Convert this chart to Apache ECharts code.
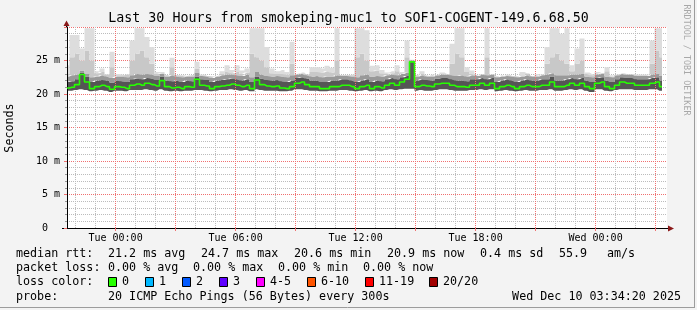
<!DOCTYPE html>
<html><head><meta charset="utf-8">
<script src="https://cdn.jsdelivr.net/npm/echarts@6/dist/echarts.min.js"></script>
<style>html,body{margin:0;padding:0;background:#f3f3f3}#c{width:697px;height:310px}</style>
</head><body><div id="c"></div>
<script>
// ---------------- data ----------------
const titleText = 'Last 30 Hours from smokeping-muc1 to SOF1-COGENT-149.6.68.50';
const yAxisName = 'Seconds';
const xTickHours = [0, 6, 12, 18, 24];
const xTickLabels = ['Tue 00:00', 'Tue 06:00', 'Tue 12:00', 'Tue 18:00', 'Wed 00:00'];
const yTickValues = [0, 5, 10, 15, 20, 25];
const yTickLabels = ['0  ', '5 m', '10 m', '15 m', '20 m', '25 m'];

// median RTT (ms), one value per 15 minutes starting Mon 21:34:20
const median = [
 20.9,21.0,21.4,22.9,21.8,20.8,21.1,21.3,21.1,20.7,
 21.1,21.0,20.8,21.3,21.5,21.3,21.6,21.4,21.2,22.0,
 21.1,20.9,21.0,20.8,21.1,21.0,22.2,21.3,21.2,20.8,
 21.1,21.2,21.3,21.5,21.3,21.1,21.3,20.8,22.1,21.4,
 21.2,21.1,21.2,20.9,20.8,21.1,21.6,21.8,21.4,21.1,
 21.1,20.8,20.8,21.1,21.1,21.3,21.3,21.1,20.8,21.1,
 21.3,20.8,21.1,20.9,21.3,21.6,21.3,21.8,22.2,24.8,
 21.1,21.3,21.2,21.1,21.5,21.6,21.6,21.3,21.1,21.1,
 21.0,21.3,21.3,21.6,21.3,21.6,20.8,21.1,21.3,21.1,
 20.8,21.1,21.3,21.1,21.1,21.3,21.3,21.8,21.1,21.1,
 21.3,21.6,21.3,21.6,21.1,20.8,21.6,21.8,21.1,20.8,
 21.3,21.8,21.6,21.6,21.3,21.3,21.3,21.6,21.8,21.1];
// lowest ping (ms)
const pingMin = [
 20.5,20.5,20.6,20.7,20.6,20.4,20.5,20.6,20.5,20.3,
 20.5,20.5,20.4,20.6,20.6,20.6,20.7,20.6,20.5,20.7,
 20.5,20.4,20.5,20.4,20.5,20.5,20.6,20.6,20.5,20.4,
 20.5,20.6,20.6,20.7,20.6,20.5,20.6,20.4,20.7,20.6,
 20.5,20.5,20.5,20.4,20.4,20.5,20.7,20.7,20.6,20.5,
 20.5,20.4,20.4,20.5,20.5,20.6,20.6,20.5,20.4,20.5,
 20.6,20.4,20.5,20.4,20.6,20.7,20.6,20.7,20.8,20.8,
 20.5,20.6,20.5,20.5,20.6,20.7,20.7,20.6,20.5,20.5,
 20.5,20.6,20.6,20.7,20.6,20.7,20.4,20.5,20.6,20.5,
 20.4,20.5,20.6,20.5,20.5,20.6,20.6,20.7,20.5,20.5,
 20.6,20.7,20.6,20.7,20.5,20.3,20.7,20.7,20.5,20.4,
 20.6,20.7,20.7,20.7,20.6,20.6,20.6,20.7,20.7,20.5];
// dense smoke upper edge (ms)
const smokeDark = [
 21.8,21.9,22.2,23.2,22.6,21.8,22.0,22.1,22.0,21.7,
 22.0,21.9,21.8,22.2,22.3,22.2,22.4,22.3,22.1,22.6,
 22.0,21.9,22.0,21.8,22.0,21.9,22.6,22.2,22.1,21.8,
 22.0,22.1,22.2,22.3,22.2,22.0,22.2,21.8,22.6,22.3,
 22.1,22.0,22.1,21.9,21.8,22.0,22.4,22.5,22.3,22.0,
 22.0,21.8,21.8,22.0,22.0,22.2,22.2,22.0,21.8,22.0,
 22.2,21.8,22.0,21.9,22.2,22.4,22.2,22.5,22.7,25.0,
 22.0,22.2,22.1,22.0,22.3,22.4,22.4,22.2,22.0,22.0,
 21.9,22.2,22.2,22.4,22.2,22.4,21.8,22.0,22.2,22.0,
 21.8,22.0,22.2,22.0,22.0,22.2,22.2,22.6,22.0,22.0,
 22.2,22.4,22.2,22.4,22.0,21.8,22.4,22.5,22.0,21.8,
 22.2,22.5,22.4,22.4,22.2,22.2,22.2,22.4,22.5,22.0];
// medium smoke upper edge (ms)
const smokeMid = [
 22.6,22.8,22.9,23.5,23.0,22.5,22.6,22.8,22.6,22.4,
 22.6,22.6,22.5,22.8,23.0,22.9,23.0,22.9,22.7,23.0,
 22.6,22.8,22.6,22.5,22.6,22.6,23.2,22.7,22.6,22.4,
 22.6,22.8,22.9,22.9,22.8,22.7,22.9,22.5,23.3,22.9,
 22.7,22.6,22.7,22.6,22.5,22.8,22.9,23.0,22.8,22.6,
 22.7,22.5,22.6,22.6,22.8,22.7,22.7,22.6,22.5,22.8,
 22.9,22.6,22.7,22.6,22.8,22.9,22.8,23.0,23.2,25.0,
 22.6,22.8,22.6,22.6,22.8,22.9,22.9,22.8,22.7,22.8,
 22.6,22.8,22.7,22.9,22.8,22.9,22.5,22.6,22.7,22.6,
 22.5,22.6,22.8,22.6,22.6,22.8,22.9,23.1,22.8,22.8,
 22.8,22.9,22.9,23.0,22.6,22.5,22.9,23.0,22.6,22.5,
 22.8,23.0,22.9,22.9,22.7,22.7,22.7,22.9,23.0,22.7];
// light smoke upper edge (ms)
const smokeLight = [
 23.0,25.5,26.0,25.0,26.5,25.0,23.1,23.3,22.9,24.0,
 22.8,22.8,22.9,25.0,26.0,26.5,25.5,24.5,23.0,23.1,
 22.8,24.0,22.8,22.7,22.7,22.8,23.8,22.8,22.7,22.6,
 22.7,23.0,23.3,23.1,23.3,23.0,23.2,26.0,25.5,25.0,
 24.0,23.1,23.0,23.0,22.9,24.5,23.0,23.1,22.9,23.3,
 23.3,23.2,23.4,23.2,25.0,22.8,22.8,22.8,25.5,26.0,
 25.0,23.4,23.5,23.1,23.0,23.1,23.4,23.1,25.5,25.0,
 22.8,23.0,22.7,22.8,22.8,23.0,22.9,24.5,26.0,25.5,
 23.3,23.0,22.8,22.9,25.5,22.9,22.6,22.7,22.8,22.7,
 22.6,22.7,23.0,22.7,22.7,22.9,24.5,25.5,26.0,25.0,
 24.5,23.4,24.5,25.0,23.0,22.8,23.0,23.1,23.4,22.6,
 22.8,23.0,22.9,22.9,22.8,22.8,22.8,24.5,26.5,25.5];
// highest ping (ms)
const pingMax = [
 24.3,28.8,28.8,26.8,29.8,29.8,23.4,23.8,23.0,26.3,
 23.0,22.9,23.0,28.0,29.8,29.8,28.5,27.0,23.3,23.3,
 22.8,25.4,22.8,22.8,22.7,22.8,24.8,22.9,22.7,22.6,
 22.7,23.4,24.3,23.6,24.3,23.5,23.8,29.8,29.8,29.8,
 27.0,23.8,23.4,23.6,23.3,27.8,23.0,23.2,22.9,24.0,
 24.0,23.8,24.2,23.9,29.8,22.8,22.8,22.9,29.8,29.8,
 29.5,24.2,24.3,23.6,23.2,23.4,24.3,23.3,28.0,25.1,
 22.8,23.4,22.8,22.9,22.8,23.2,23.0,27.5,29.8,29.8,
 24.0,23.5,22.8,23.0,29.8,23.0,22.7,22.8,22.9,22.7,
 22.7,23.3,23.1,22.7,23.0,23.0,27.0,29.8,29.8,29.0,
 29.8,24.3,26.8,28.3,23.2,23.0,23.3,23.1,24.0,22.8,
 22.9,23.1,23.0,23.0,22.9,22.9,22.9,28.0,29.8,29.8];

const rttLabel = 'median rtt:';
const rttStats = ['21.2 ms avg', '24.7 ms max', '20.6 ms min', '20.9 ms now', '0.4 ms sd', '55.9', 'am/s'];
const lossLabel = 'packet loss:';
const lossStats = ['0.00 % avg', '0.00 % max', '0.00 % min', '0.00 % now'];
const lossColorLabel = 'loss color:';
const lossLabels = ['0', '1', '2', '3', '4-5', '6-10', '11-19', '20/20'];
const lossColors = ['#26ff00', '#00b8ff', '#0059ff', '#5e00ff', '#ff00ff', '#ff5500', '#ff0000', '#a10000'];
const probeLabel = 'probe:';
const probeText = '20 ICMP Echo Pings (56 Bytes) every 300s';
const dateText = 'Wed Dec 10 03:34:20 2025';
const sideText = 'RRDTOOL / TOBI OETIKER';

// ---------------- layout ----------------
const FONT = 'DejaVu Sans Mono';
const T0 = -(2 + 25 / 60 + 40 / 3600);   // hours relative to Tue 00:00
const T1 = T0 + 30;
const slots = []; for (let i = 0; i <= 120; i++) slots.push(String(i)); // 15-minute sample slots
const hourTicks = []; for (let h = -2; h <= 27; h++) if (h % 3 !== 0) hourTicks.push(h);
const majorTicks = []; for (let h = 0; h <= 27; h += 3) majorTicks.push(h);
const GRID_MINOR = '#bcbcbc', GRID_MAJOR = '#f07070';

const rttX = [108, 201, 294, 387, 480, 559, 607];
const lossX = [108, 193, 278, 363];
const swatchX = [108, 145, 182, 219, 256, 307, 365, 429];
const rowY = [254, 268, 282, 297];

const diff = (top, bot) => top.map((v, i) => Math.max(0, +(v - bot[i]).toFixed(3)));

const layers = [
  { top: smokeDark, bot: pingMin, color: '#555555' },
  { top: smokeMid, bot: smokeDark, color: '#999999' },
  { top: smokeLight, bot: smokeMid, color: '#c8c8c8' },
  { top: pingMax, bot: smokeLight, color: '#dddddd' }
];
const series = [{
  type: 'line', xAxisIndex: 2, stack: 'smoke', data: pingMin.slice(), symbol: 'none', step: 'middle',
  lineStyle: { width: 0, opacity: 0 }, silent: true
}];
layers.forEach(l => series.push({
  type: 'line', xAxisIndex: 2, stack: 'smoke', data: diff(l.top, l.bot), symbol: 'none', step: 'middle',
  lineStyle: { width: 0, opacity: 0 }, areaStyle: { color: l.color, opacity: 1 }, silent: true
}));
series.push({
  type: 'line', xAxisIndex: 2, data: median.slice(), symbol: 'none', step: 'middle', z: 5,
  lineStyle: { color: '#26ff00', width: 1.6 }
});

const graphic = [];
const txt = (text, x, y, opts = {}) => graphic.push(Object.assign({
  type: 'text', x, y, silent: true,
  style: Object.assign({ text, fontFamily: FONT, fontSize: 11.7, fill: '#000', verticalAlign: 'middle', align: 'left' }, opts.style || {})
}, opts.el || {}));

txt(titleText, 348.5, 19, { style: { fontSize: 13.3, align: 'center' } });
txt(yAxisName, 10, 128, { style: { fontSize: 11.7, align: 'center' }, el: { rotation: Math.PI / 2 } });
txt(sideText, 686, 60, { style: { fontSize: 8.4, align: 'center', fill: '#a8a8a8' }, el: { rotation: -Math.PI / 2 } });

txt(rttLabel, 16, rowY[0]);
rttStats.forEach((s, i) => txt(s, rttX[i], rowY[0]));
txt(lossLabel, 16, rowY[1]);
lossStats.forEach((s, i) => txt(s, lossX[i], rowY[1]));
txt(lossColorLabel, 16, rowY[2]);
lossLabels.forEach((s, i) => {
  graphic.push({ type: 'rect', silent: true, shape: { x: swatchX[i] + 0.5, y: rowY[2] - 4.5, width: 8, height: 9 },
    style: { fill: lossColors[i], stroke: '#000', lineWidth: 1 } });
  txt(s, swatchX[i] + 14, rowY[2]);
});
txt(probeLabel, 16, rowY[3]);
txt(probeText, 108, rowY[3]);
txt(dateText, 681, rowY[3], { style: { align: 'right' } });

// axis extensions & arrows
graphic.push({ type: 'line', silent: true, shape: { x1: 62, y1: 228.5, x2: 67, y2: 228.5 }, style: { stroke: '#000', lineWidth: 1 } });
graphic.push({ type: 'line', silent: true, shape: { x1: 66.5, y1: 23, x2: 66.5, y2: 27 }, style: { stroke: '#000', lineWidth: 1 } });
graphic.push({ type: 'line', silent: true, shape: { x1: 667, y1: 228.5, x2: 669, y2: 228.5 }, style: { stroke: '#000', lineWidth: 1 } });
graphic.push({ type: 'polygon', silent: true, shape: { points: [[63.5, 26], [69.5, 26], [66.5, 20.5]] }, style: { fill: '#8b1a1a' } });
graphic.push({ type: 'polygon', silent: true, shape: { points: [[668, 225.5], [668, 231.5], [674, 228.5]] }, style: { fill: '#8b1a1a' } });
// frame shading
graphic.push({ type: 'line', silent: true, shape: { x1: 694.5, y1: 0, x2: 694.5, y2: 308 }, style: { stroke: '#9c9c9c', lineWidth: 1 } });
graphic.push({ type: 'line', silent: true, shape: { x1: 0, y1: 307.5, x2: 695, y2: 307.5 }, style: { stroke: '#9c9c9c', lineWidth: 1 } });

const chart = echarts.init(document.getElementById('c'), null, { renderer: 'canvas' });
chart.setOption({
  animation: false,
  backgroundColor: '#f3f3f3',
  grid: { left: 67, right: 30, top: 27, bottom: 82, show: true, backgroundColor: '#fff', borderWidth: 0 },
  xAxis: [{
    type: 'value', min: T0, max: T1, gridIndex: 0, position: 'bottom', z: 3,
    axisLine: { show: true, onZero: false, lineStyle: { color: '#000', width: 1 } },
    axisTick: { show: false, customValues: hourTicks },
    axisLabel: { show: false },
    splitLine: { show: true, lineStyle: { color: GRID_MINOR, width: 1, type: [1, 1] } }
  }, {
    type: 'value', min: T0, max: T1, gridIndex: 0, position: 'bottom', z: 4,
    axisLine: { show: false, onZero: false },
    axisTick: { show: true, length: 3, inside: false, customValues: majorTicks, lineStyle: { color: GRID_MAJOR } },
    axisLabel: {
      show: true, customValues: xTickHours, margin: 5, fontFamily: FONT, fontSize: 10, color: '#000',
      formatter: v => xTickLabels[xTickHours.indexOf(Math.round(v))]
    },
    splitLine: { show: true, lineStyle: { color: GRID_MAJOR, width: 1, type: [1, 1] } }
  }, {
    type: 'category', data: slots, boundaryGap: false, gridIndex: 0, show: false,
    axisLine: { onZero: false }
  }],
  yAxis: {
    type: 'value', min: 0, max: 30, interval: 5, z: 3,
    axisLine: { show: true, onZero: false, lineStyle: { color: '#000', width: 1 } },
    axisTick: { show: true, length: 3, lineStyle: { color: GRID_MAJOR } },
    minorTick: { show: true, splitNumber: 5, length: 2, lineStyle: { color: '#999' } },
    axisLabel: {
      showMaxLabel: false, margin: 7, fontFamily: FONT, fontSize: 10, color: '#000',
      formatter: v => { const k = yTickValues.indexOf(Math.round(v)); return k >= 0 ? yTickLabels[k] : ''; }
    },
    splitLine: { show: true, lineStyle: { color: GRID_MAJOR, width: 1, type: [1, 1] } },
    minorSplitLine: { show: true, lineStyle: { color: GRID_MINOR, width: 1, type: [1, 1] } }
  },
  series,
  graphic
});
</script></body></html>
